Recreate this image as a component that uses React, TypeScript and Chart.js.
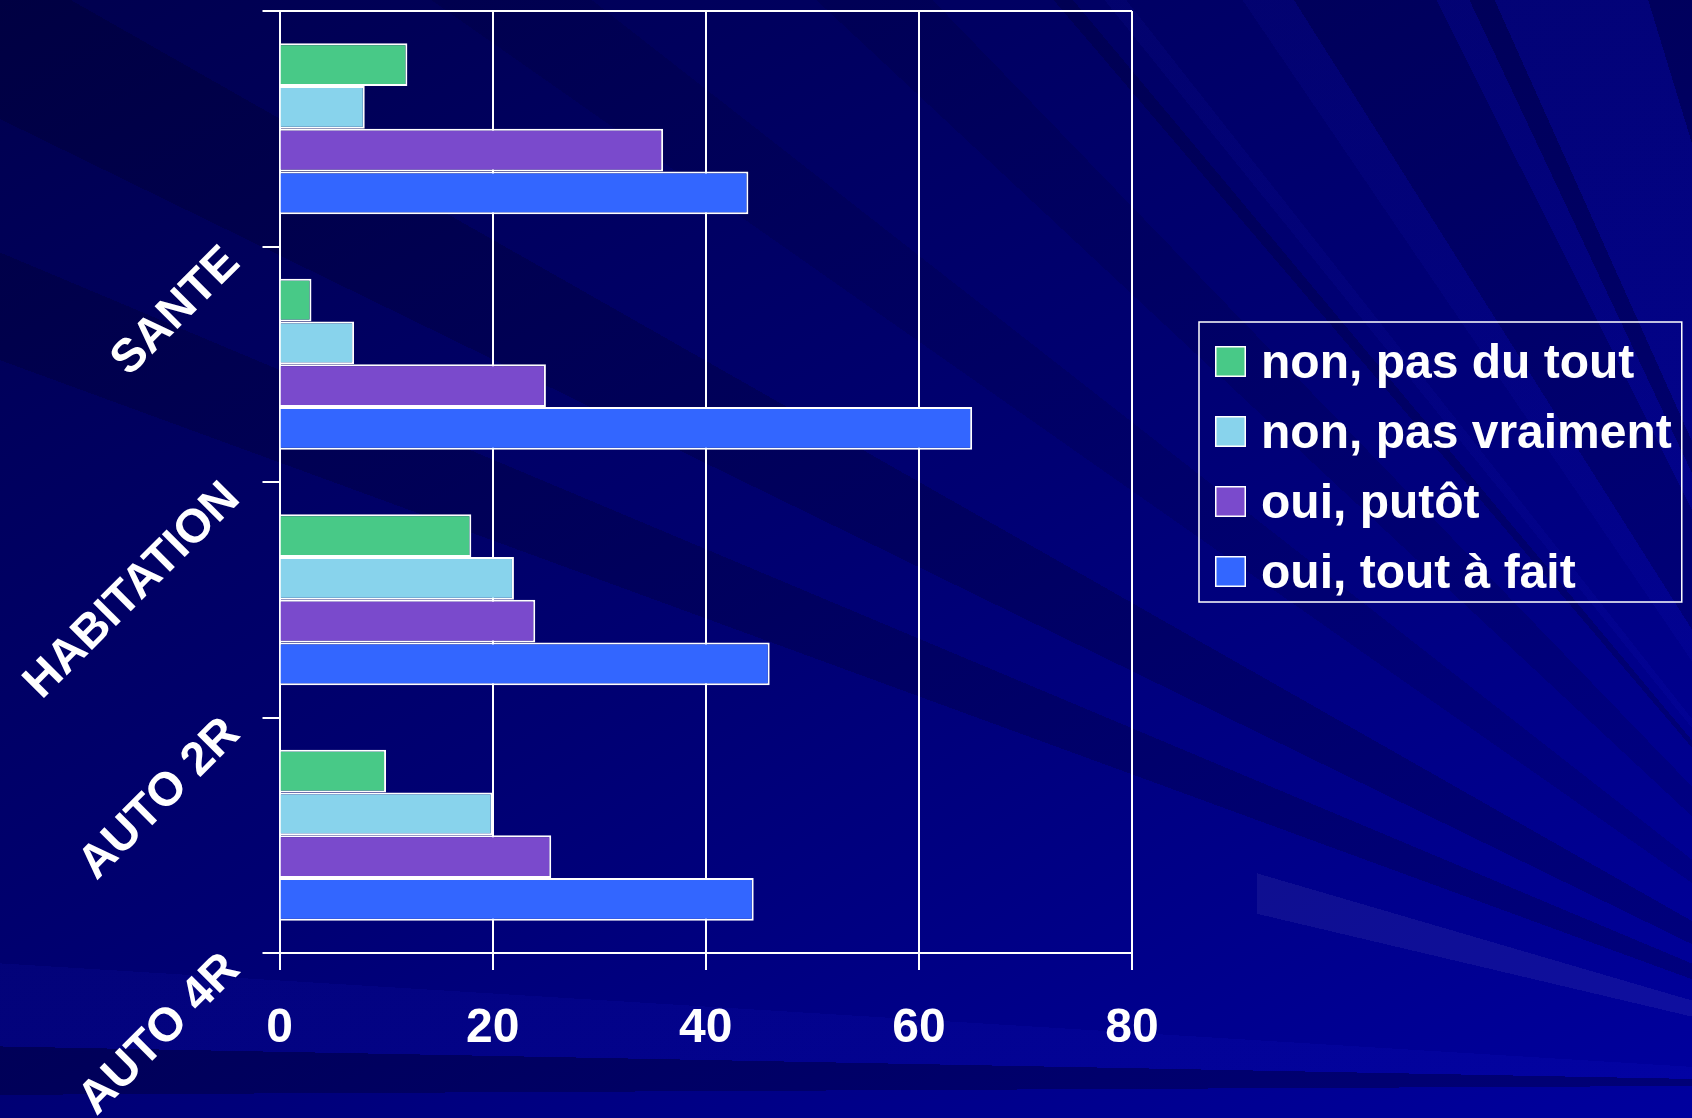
import React, { useEffect, useRef } from "react";
import { Chart, registerables } from "chart.js";

Chart.register(...registerables);

// ---- data ----
const categories = ["SANTE", "HABITATION", "AUTO 2R", "AUTO 4R"];
const seriesNames = ["non, pas du tout", "non, pas vraiment", "oui, putôt", "oui, tout à fait"];
const nonPasDuTout = [12, 3, 18, 10];
const nonPasVraiment = [8, 7, 22, 20];
const ouiPlutot = [36, 25, 24, 25.5];
const ouiToutAFait = [44, 65, 46, 44.5];
const xTickValues = [0, 20, 40, 60, 80];
const seriesColors = ["#48C987", "#88D3EC", "#7A4ACC", "#3366FF"];

const W = 1692;
const H = 1118;
const FONT = "'Liberation Sans', Arial, Helvetica, sans-serif";

const zeroPadding = (scale: any) => {
  scale.paddingTop = 0;
  scale.paddingBottom = 0;
  scale.paddingLeft = 0;
  scale.paddingRight = 0;
};

const boxedLegend = {
  id: "boxedLegend",
  afterDraw(chart: any, _args: any, opts: any) {
    const ctx = chart.ctx;
    const { x, y, box, step, textX, size, padRight, borderLeft, borderTop, borderBottom } = opts;
    ctx.save();
    ctx.font = `bold ${size}px ${FONT}`;
    ctx.textBaseline = "alphabetic";
    ctx.textAlign = "left";
    let maxW = 0;
    chart.data.datasets.forEach((ds: any, i: number) => {
      const top = y + i * step;
      ctx.fillStyle = ds.backgroundColor;
      ctx.fillRect(x, top, box, box);
      ctx.lineWidth = 1.5;
      ctx.strokeStyle = "#FFFFFF";
      ctx.strokeRect(x + 0.75, top + 0.75, box - 1.5, box - 1.5);
      ctx.fillStyle = "#FFFFFF";
      ctx.fillText(ds.label, textX, top + box + 1);
      maxW = Math.max(maxW, ctx.measureText(ds.label).width);
    });
    ctx.strokeStyle = "#FFFFFF";
    ctx.lineWidth = 1.5;
    const right = textX + maxW + padRight;
    ctx.strokeRect(borderLeft, borderTop, right - borderLeft, borderBottom - borderTop);
    ctx.restore();
  },
};

export default function App() {
  const ref = useRef<HTMLCanvasElement | null>(null);

  useEffect(() => {
    if (!ref.current) return;
    const seriesValues = [nonPasDuTout, nonPasVraiment, ouiPlutot, ouiToutAFait];
    const chart = new Chart(ref.current, {
      type: "bar",
      data: {
        labels: categories,
        datasets: seriesValues.map((vals, i) => ({
          label: seriesNames[i],
          data: vals,
          backgroundColor: seriesColors[i],
          borderColor: "#FFFFFF",
          borderWidth: 2,
          categoryPercentage: 0.727,
          barPercentage: 1.0,
        })),
      },
      options: {
        indexAxis: "y",
        animation: false,
        responsive: false,
        devicePixelRatio: 1,
        layout: {
          autoPadding: false,
          padding: { top: 11, right: 560, bottom: 0, left: 0 },
        },
        plugins: {
          legend: { display: false },
          tooltip: { enabled: false },
          boxedLegend: {
            x: 1215,
            y: 346,
            box: 31,
            step: 70,
            textX: 1261,
            size: 48,
            padRight: 10,
            borderLeft: 1199,
            borderTop: 322,
            borderBottom: 602,
          },
        } as any,
        scales: {
          x: {
            type: "linear",
            position: "bottom",
            min: 0,
            max: 80,
            afterBuildTicks: (scale: any) => {
              scale.ticks = xTickValues.map((v) => ({ value: v }));
            },
            afterFit: (scale: any) => {
              scale.height = 165;
              zeroPadding(scale);
            },
            grid: {
              color: "#FFFFFF",
              lineWidth: 2,
              tickLength: 17,
              tickColor: "#FFFFFF",
              drawTicks: true,
            },
            border: { display: true, color: "#FFFFFF", width: 2 },
            ticks: {
              color: "#FFFFFF",
              padding: 30,
              font: { family: FONT, size: 48, weight: "bold" },
            },
          },
          y: {
            type: "category",
            position: "left",
            weight: 0,
            offset: true,
            afterFit: (scale: any) => {
              zeroPadding(scale);
            },
            grid: {
              offset: true,
              color: (c: any) => (c.index === 0 ? "#FFFFFF" : "rgba(0,0,0,0)"),
              tickColor: "#FFFFFF",
              lineWidth: 2,
              tickLength: 17,
              drawTicks: true,
              drawOnChartArea: true,
            },
            border: { display: true, color: "#FFFFFF", width: 2 },
            ticks: { display: false },
          },
          y2: {
            type: "category",
            position: "left",
            weight: 1,
            offset: false,
            labels: ["", ...categories],
            afterFit: (scale: any) => {
              scale.width = 262.5;
              zeroPadding(scale);
            },
            grid: { display: false },
            border: { display: false },
            ticks: {
              color: "#FFFFFF",
              autoSkip: false,
              minRotation: 45,
              maxRotation: 45,
              padding: 22,
              labelOffset: 9,
              font: { family: FONT, size: 47, weight: "bold" },
            },
          },
        } as any,
      },
      plugins: [boxedLegend],
    } as any);
    return () => chart.destroy();
  }, []);

  const rays = [
    "conic-gradient(at 117% 97%, rgba(0,0,0,0) 0deg 269.7deg, rgba(0,0,20,0.28) 269.7deg 271.1deg, rgba(40,40,255,0.07) 271.1deg 273.5deg, rgba(0,0,0,0) 273.5deg 290.1deg, rgba(0,0,20,0.2) 290.1deg 292.8deg, rgba(0,0,0,0) 292.8deg 296deg, rgba(0,0,20,0.2) 296deg 299.6deg, rgba(0,0,0,0) 299.6deg 305deg, rgba(0,0,20,0.12) 305deg 308deg, rgba(0,0,0,0) 308deg 313deg, rgba(0,0,20,0.12) 313deg 316deg, rgba(0,0,0,0) 316deg 319.5deg, rgba(0,0,20,0.2) 319.5deg 320.1deg, rgba(0,0,0,0) 320.1deg 321.1deg, rgba(40,40,255,0.06) 321.1deg 321.8deg, rgba(0,0,0,0) 321.8deg 325.8deg, rgba(40,40,255,0.06) 325.8deg 327.7deg, rgba(0,0,20,0.15) 327.7deg 333.4deg, rgba(40,40,255,0.06) 333.4deg 334.8deg, rgba(0,0,20,0.2) 334.8deg 335.9deg, rgba(40,40,255,0.07) 335.9deg 343deg, rgba(0,0,20,0.2) 343deg 360deg)",
    "linear-gradient(150deg, #00004e 0%, #000072 50%, #00009e 100%)",
  ].join(", ");

  const streak =
    "conic-gradient(at 166% 97%, rgba(0,0,0,0) 0deg 283.3deg, rgba(255,255,255,0.06) 283.3deg 286.3deg, rgba(0,0,0,0) 286.3deg 360deg)";

  return (
    <div
      style={{
        position: "fixed",
        left: 0,
        top: 0,
        width: W,
        height: H,
        overflow: "hidden",
        background: rays,
      }}
    >
      <div
        style={{
          position: "absolute",
          left: 1257,
          top: 0,
          width: W - 1257,
          height: H,
          background: streak,
        }}
      />
      <canvas
        ref={ref}
        width={W}
        height={H}
        style={{ position: "absolute", left: 0, top: 0, width: W, height: H, display: "block" }}
      />
    </div>
  );
}
